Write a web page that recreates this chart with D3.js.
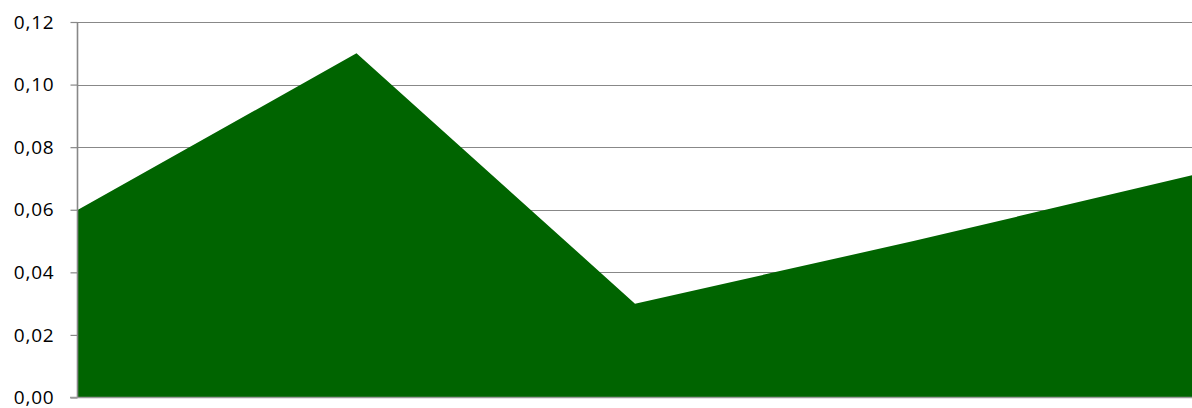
<!DOCTYPE html>
<html>
<head>
<meta charset="utf-8">
<script src="https://cdn.jsdelivr.net/npm/d3@7"></script>
<style>
  html, body { margin: 0; padding: 0; background: #fff; }
  svg { display: block; }
  .tick text { font-family: "Open Sans", "Liberation Sans", sans-serif; font-size: 19px; letter-spacing: 0.8px; fill: #000; }
</style>
</head>
<body>
<svg id="chart" width="1192" height="408"></svg>
<script>
'use strict';

var categories = ['1', '2', '3', '4', '5'];
var values = [0.06, 0.11, 0.03, 0.05, 0.071];
var yTicks = [0, 0.02, 0.04, 0.06, 0.08, 0.10, 0.12];

var width = 1192, height = 408,
    margin = {top: 22, right: 0, bottom: 10.5, left: 78};

var svg = d3.select('#chart');

var x = d3.scalePoint()
  .domain(categories)
  .range([margin.left, width - margin.right]);

var y = d3.scaleLinear()
  .domain([0, 0.12])
  .range([height - margin.bottom, margin.top]);

var fmt = function(d) { return d3.format('.2f')(d).replace('.', ','); };

// gridlines
svg.append('g')
  .selectAll('line')
  .data(yTicks.slice(1))
  .enter().append('line')
    .attr('x1', margin.left)
    .attr('x2', width)
    .attr('y1', function(d) { return Math.round(y(d)) + 0.5; })
    .attr('y2', function(d) { return Math.round(y(d)) + 0.5; })
    .attr('stroke', '#888')
    .attr('stroke-width', 1.2);

var data = categories.map(function(c, i) { return {c: c, v: values[i]}; });

var area = d3.area()
  .x(function(d) { return x(d.c); })
  .y0(y(0))
  .y1(function(d) { return y(d.v); });

svg.append('path')
  .datum(data)
  .attr('fill', '#006400')
  .attr('d', area);

// y axis
var yAxis = svg.append('g')
  .attr('transform', 'translate(' + (margin.left - 0.5) + ',0)')
  .call(d3.axisLeft(y).tickValues(yTicks).tickFormat(fmt).tickSize(7).tickPadding(16));

yAxis.select('.domain').attr('stroke', '#888').attr('stroke-width', 1.6)
  .attr('d', 'M0,' + y(0.12) + 'V' + y(0));
yAxis.selectAll('.tick line').attr('stroke', '#888').attr('stroke-width', 1.2);
yAxis.selectAll('.tick text').attr('font-family', null).attr('font-size', null);

// x axis baseline
svg.append('line')
  .attr('x1', margin.left - 8)
  .attr('x2', width)
  .attr('y1', y(0))
  .attr('y2', y(0))
  .attr('stroke', '#999')
  .attr('stroke-width', 1.6);
</script>
</body>
</html>
